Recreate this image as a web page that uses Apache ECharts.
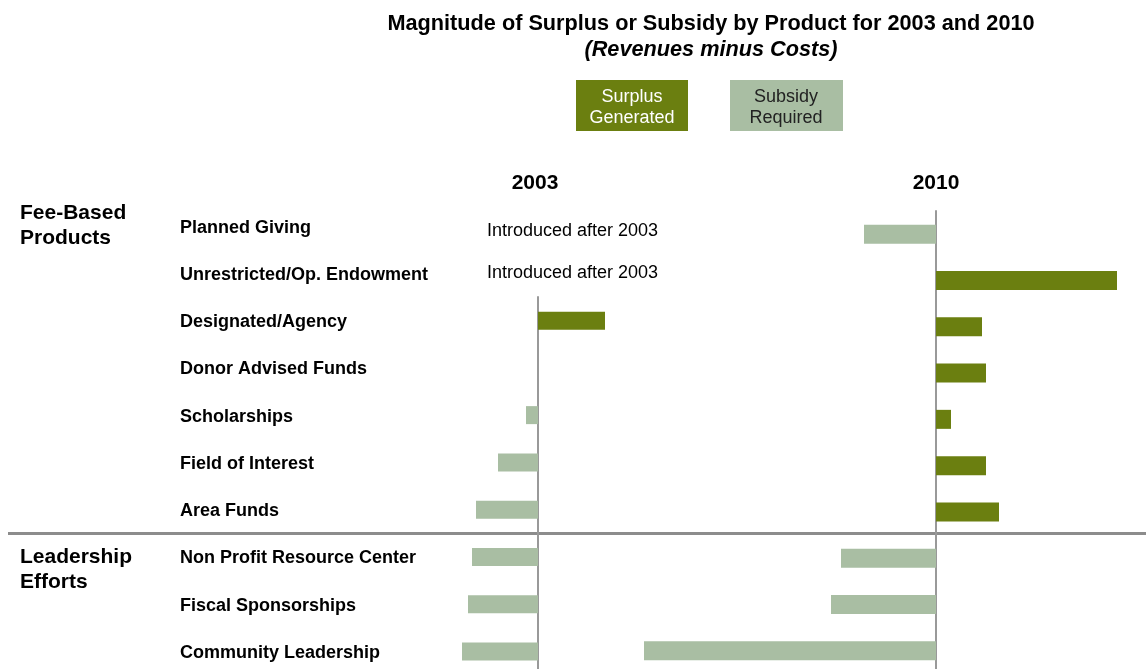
<!DOCTYPE html>
<html>
<head>
<meta charset="utf-8">
<script src="https://cdn.jsdelivr.net/npm/echarts@6/dist/echarts.min.js"></script>
<style>
    html, body {margin: 0; padding: 0; background: #fff; overflow: hidden;}
    #surplus {width: 1146px; height: 669px;}
</style>
</head>
<body>
<div id="surplus"></div>
<script>
// products, top to bottom
var categories = ['Planned Giving', 'Unrestricted/Op. Endowment', 'Designated/Agency', 'Donor Advised Funds',
    'Scholarships', 'Field of Interest', 'Area Funds', 'Non Profit Resource Center',
    'Fiscal Sponsorships', 'Community Leadership'];
// revenues minus costs (same relative units in both years)
var values2003 = [null, null, 67, 0, -12, -40, -62, -66, -70, -76];
var values2010 = [-72, 181, 46, 50, 15, 50, 63, -95, -105, -292];
var years = ['2003', '2010'];
var groups = ['Fee-Based\nProducts', 'Leadership\nEfforts'];
var notYet = 'Introduced after 2003';

var SURPLUS = '#6b7f10';
var SUBSIDY = '#a9bea3';
var FONT = '"Liberation Sans", Arial, sans-serif';

function barColor(p) {
    return p.value >= 0 ? SURPLUS : SUBSIDY;
}

var chart = echarts.init(document.getElementById('surplus'));

option = {
    backgroundColor: '#fff',
    animation: false,
    title: {
        text: 'Magnitude of Surplus or Subsidy by Product for 2003 and 2010',
        subtext: '(Revenues minus Costs)',
        left: 706,
        top: 8,
        textAlign: 'center',
        itemGap: 4,
        textStyle: {fontFamily: FONT, fontSize: 21.7, fontWeight: 'bold', color: '#000'},
        subtextStyle: {fontFamily: FONT, fontSize: 21.7, fontWeight: 'bold', fontStyle: 'italic', color: '#000'}
    },
    grid: [
        // labels only
        {left: 180, top: 204, width: 100, height: 472.5, outerBoundsMode: 'none'},
        // 2003 (Designated/Agency onwards)
        {left: 438, top: 297, width: 200, height: 378, outerBoundsMode: 'none'},
        // 2010
        {left: 636, top: 211, width: 500, height: 463, outerBoundsMode: 'none'}
    ],
    xAxis: [
        {gridIndex: 0, type: 'value', min: 0, max: 1, show: false},
        {gridIndex: 1, type: 'value', min: -100, max: 100, show: false},
        {gridIndex: 2, type: 'value', min: -300, max: 200, show: false}
    ],
    yAxis: [
        {
            gridIndex: 0, type: 'category', inverse: true, data: categories,
            axisLine: {show: false}, axisTick: {show: false}, splitLine: {show: false},
            axisLabel: {
                interval: 0, align: 'left', margin: 0,
                fontFamily: FONT, fontSize: 18, fontWeight: 'bold', color: '#000'
            }
        },
        {
            gridIndex: 1, type: 'category', inverse: true, data: categories.slice(2),
            axisLine: {show: true, onZero: true, lineStyle: {color: '#999', width: 2}},
            axisTick: {show: false}, axisLabel: {show: false}, splitLine: {show: false}
        },
        {
            gridIndex: 2, type: 'category', inverse: true, data: categories,
            axisLine: {show: true, onZero: true, lineStyle: {color: '#999', width: 2}},
            axisTick: {show: false}, axisLabel: {show: false}, splitLine: {show: false}
        }
    ],
    series: [
        {
            name: years[0], type: 'bar', xAxisIndex: 1, yAxisIndex: 1,
            data: values2003.slice(2), barWidth: 18,
            itemStyle: {color: barColor}
        },
        {
            name: years[1], type: 'bar', xAxisIndex: 2, yAxisIndex: 2,
            data: values2010, barWidth: 19,
            itemStyle: {color: barColor}
        }
    ],
    graphic: [
        // legend boxes
        {type: 'rect', left: 576, top: 80, shape: {width: 112, height: 51}, style: {fill: SURPLUS}},
        {type: 'text', x: 632, y: 107.5, style: {text: 'Surplus\nGenerated', align: 'center', verticalAlign: 'middle',
            fontFamily: FONT, fontSize: 18, lineHeight: 21, fill: '#fff'}},
        {type: 'rect', left: 730, top: 80, shape: {width: 113, height: 51}, style: {fill: SUBSIDY}},
        {type: 'text', x: 786, y: 107.5, style: {text: 'Subsidy\nRequired', align: 'center', verticalAlign: 'middle',
            fontFamily: FONT, fontSize: 18, lineHeight: 21, fill: '#222'}},
        // year headers
        {type: 'text', x: 535, y: 183, style: {text: years[0], align: 'center', verticalAlign: 'middle',
            fontFamily: FONT, fontSize: 21, fontWeight: 'bold', fill: '#000'}},
        {type: 'text', x: 936, y: 183, style: {text: years[1], align: 'center', verticalAlign: 'middle',
            fontFamily: FONT, fontSize: 21, fontWeight: 'bold', fill: '#000'}},
        // group labels
        {type: 'text', x: 20, y: 226, style: {text: groups[0], verticalAlign: 'middle',
            fontFamily: FONT, fontSize: 21, fontWeight: 'bold', lineHeight: 25, fill: '#000'}},
        {type: 'text', x: 20, y: 570, style: {text: groups[1], verticalAlign: 'middle',
            fontFamily: FONT, fontSize: 21, fontWeight: 'bold', lineHeight: 25, fill: '#000'}},
        // not offered in 2003
        {type: 'text', x: 487, y: 231, style: {text: notYet, verticalAlign: 'middle',
            fontFamily: FONT, fontSize: 18, fill: '#000'}},
        {type: 'text', x: 487, y: 273, style: {text: notYet, verticalAlign: 'middle',
            fontFamily: FONT, fontSize: 18, fill: '#000'}},
        // separator between the two groups
        {type: 'line', shape: {x1: 8, y1: 533.5, x2: 1146, y2: 533.5}, style: {stroke: '#8c8c8c', lineWidth: 3}}
    ]
};

chart.setOption(option);
</script>
</body>
</html>
